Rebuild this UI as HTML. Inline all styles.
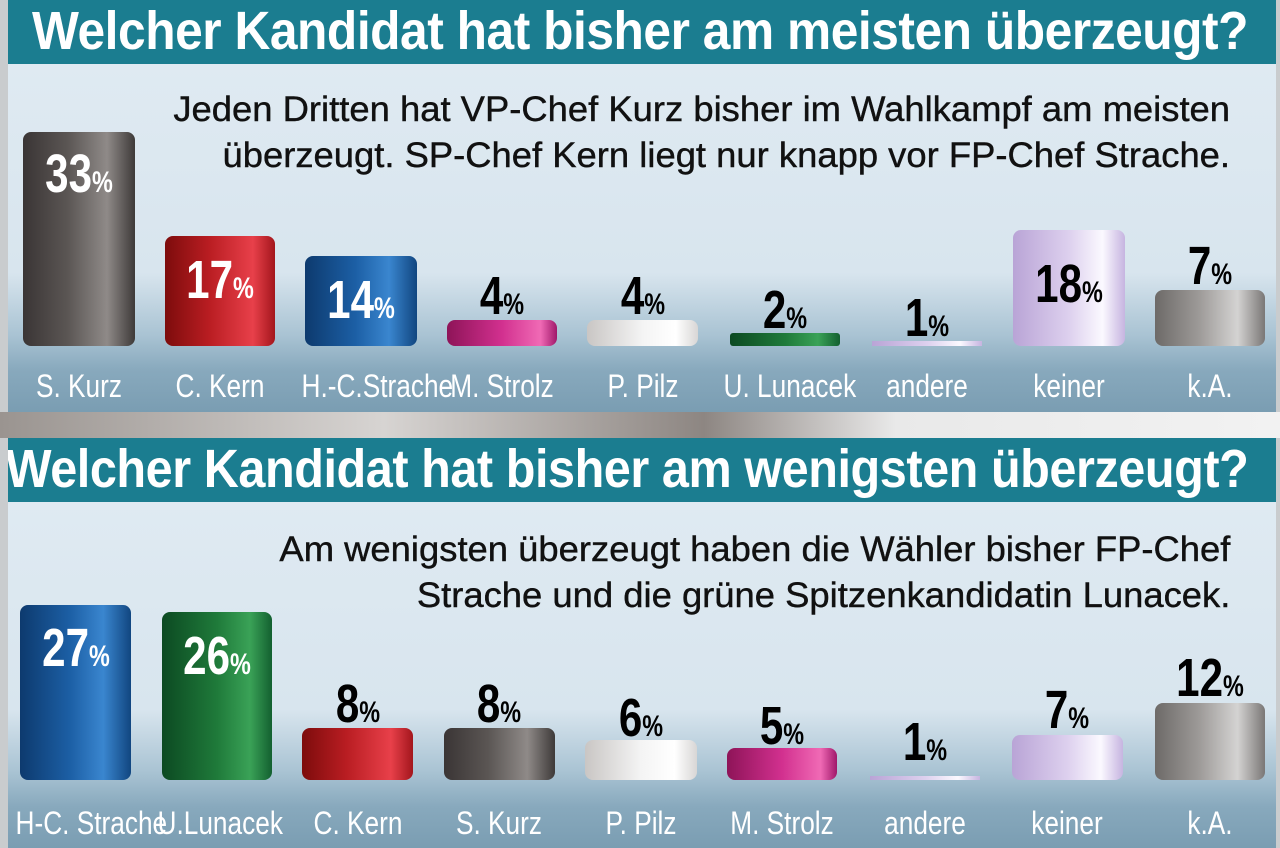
<!DOCTYPE html>
<html><head><meta charset="utf-8"><style>
*{margin:0;padding:0;box-sizing:border-box}
body{width:1280px;height:848px;position:relative;overflow:hidden;background:#c9ccce;font-family:"Liberation Sans",sans-serif}
.a{position:absolute}
.title{left:8px;width:1268px;height:64px;background:#1b7d90;color:#fff;font-weight:bold;white-space:nowrap;overflow:hidden}
.title span{position:absolute;top:0;font-size:54px;line-height:62px;transform-origin:center;letter-spacing:-0.5px;white-space:nowrap}
.panel{left:8px;width:1268px;background:linear-gradient(#dfeaf2 0%,#d8e5ee 60%,#a9c3d3 78%,#88a9bd 88%,#7a9db2 100%)}
.sub{color:#111;font-size:35px;line-height:46px;white-space:nowrap;text-align:right;transform:scaleX(1.04);transform-origin:right top;-webkit-text-stroke:0.4px #111}
.bar{border-radius:8px}
.lab{color:#fff;font-size:32px;text-align:center;width:150px;white-space:nowrap;transform:scaleX(0.82)}
.v{font-weight:bold;font-size:54px;text-align:center;width:130px;white-space:nowrap;transform:scaleX(0.78);line-height:60px}
.v small{font-size:30px}
.w{color:#fff}.k{color:#000}
.gray{background:linear-gradient(90deg,#3a3535,#5b5654 40%,#8f8a88 75%,#3e3a39)}
.red{background:linear-gradient(90deg,#7d0c0c,#b91d22 40%,#e8404a 80%,#a3161c)}
.blue{background:linear-gradient(90deg,#0d3a6e,#1c5fa5 45%,#3a86cf 75%,#114680)}
.pink{background:linear-gradient(90deg,#8e1458,#d2308f 50%,#f06ab5 85%,#a0186a)}
.white{background:linear-gradient(90deg,#c9c6c4,#f4f4f4 50%,#ffffff 80%,#d8d6d5)}
.green{background:linear-gradient(90deg,#0c4a22,#1f7a3a 50%,#3aa257 80%,#136030)}
.lav{background:linear-gradient(90deg,#b9a4d6,#ddd0ee 50%,#fbf9ff 80%,#c6b4e0)}
.ka{background:linear-gradient(90deg,#6d6a68,#9d9a98 40%,#d4d3d2 75%,#7a7776)}
</style></head><body>
<!-- TOP -->
<div class="a title" style="top:0"><span style="left:632px;transform:translateX(-50%) scaleX(0.92)">Welcher Kandidat hat bisher am meisten überzeugt?</span></div>
<div class="a panel" style="top:64px;height:348px"></div>
<div class="a" style="left:0;top:412px;width:1280px;height:26px;background:linear-gradient(90deg,#9a9490,#d7d4d2 30%,#8d8682 55%,#e9e9e9 70%,#f2f2f2)"></div>
<div class="a sub" style="right:50px;top:87px">Jeden Dritten hat VP-Chef Kurz bisher im Wahlkampf am meisten<br>überzeugt. SP-Chef Kern liegt nur knapp vor FP-Chef Strache.</div>

<div class="a bar gray" style="left:23px;top:132px;width:112px;height:214px"></div>
<div class="a bar red" style="left:165px;top:236px;width:110px;height:110px"></div>
<div class="a bar blue" style="left:305px;top:256px;width:112px;height:90px"></div>
<div class="a bar pink" style="left:447px;top:320px;width:110px;height:26px"></div>
<div class="a bar white" style="left:587px;top:320px;width:111px;height:26px"></div>
<div class="a bar green" style="left:730px;top:333px;width:110px;height:13px;border-radius:3px"></div>
<div class="a lav" style="left:872px;top:341px;width:110px;height:5px"></div>
<div class="a bar lav" style="left:1013px;top:230px;width:112px;height:116px"></div>
<div class="a bar ka" style="left:1155px;top:290px;width:110px;height:56px"></div>

<div class="a v w" style="left:14px;top:144px">33<small>%</small></div>
<div class="a v w" style="left:155px;top:250px">17<small>%</small></div>
<div class="a v w" style="left:296px;top:270px">14<small>%</small></div>
<div class="a v k" style="left:437px;top:266px">4<small>%</small></div>
<div class="a v k" style="left:578px;top:266px">4<small>%</small></div>
<div class="a v k" style="left:720px;top:280px">2<small>%</small></div>
<div class="a v k" style="left:862px;top:288px">1<small>%</small></div>
<div class="a v k" style="left:1004px;top:254px">18<small>%</small></div>
<div class="a v k" style="left:1145px;top:236px">7<small>%</small></div>

<div class="a lab" style="left:4px;top:368px">S. Kurz</div>
<div class="a lab" style="left:145px;top:368px">C. Kern</div>
<div class="a lab" style="left:288px;top:368px">H.-C.Strache</div>
<div class="a lab" style="left:427px;top:368px">M. Strolz</div>
<div class="a lab" style="left:568px;top:368px">P. Pilz</div>
<div class="a lab" style="left:710px;top:368px">U. Lunacek</div>
<div class="a lab" style="left:852px;top:368px">andere</div>
<div class="a lab" style="left:994px;top:368px">keiner</div>
<div class="a lab" style="left:1135px;top:368px">k.A.</div>

<!-- BOTTOM -->
<div class="a title" style="top:438px"><span style="left:619px;transform:translateX(-50%) scaleX(0.90)">Welcher Kandidat hat bisher am wenigsten überzeugt?</span></div>
<div class="a panel" style="top:502px;height:346px"></div>
<div class="a sub" style="right:50px;top:527px">Am wenigsten überzeugt haben die Wähler bisher FP-Chef<br>Strache und die grüne Spitzenkandidatin Lunacek.</div>

<div class="a bar blue" style="left:20px;top:605px;width:111px;height:175px"></div>
<div class="a bar green" style="left:162px;top:612px;width:110px;height:168px"></div>
<div class="a bar red" style="left:302px;top:728px;width:111px;height:52px"></div>
<div class="a bar gray" style="left:444px;top:728px;width:111px;height:52px"></div>
<div class="a bar white" style="left:585px;top:740px;width:112px;height:40px"></div>
<div class="a bar pink" style="left:727px;top:748px;width:110px;height:32px"></div>
<div class="a lav" style="left:870px;top:776px;width:110px;height:4px"></div>
<div class="a bar lav" style="left:1012px;top:735px;width:111px;height:45px"></div>
<div class="a bar ka" style="left:1155px;top:703px;width:110px;height:77px"></div>

<div class="a v w" style="left:11px;top:618px">27<small>%</small></div>
<div class="a v w" style="left:152px;top:626px">26<small>%</small></div>
<div class="a v k" style="left:293px;top:674px">8<small>%</small></div>
<div class="a v k" style="left:434px;top:674px">8<small>%</small></div>
<div class="a v k" style="left:576px;top:688px">6<small>%</small></div>
<div class="a v k" style="left:717px;top:696px">5<small>%</small></div>
<div class="a v k" style="left:860px;top:712px">1<small>%</small></div>
<div class="a v k" style="left:1002px;top:680px">7<small>%</small></div>
<div class="a v k" style="left:1145px;top:648px">12<small>%</small></div>

<div class="a lab" style="left:2px;top:805px">H-C. Strache</div>
<div class="a lab" style="left:144px;top:805px">U.Lunacek</div>
<div class="a lab" style="left:283px;top:805px">C. Kern</div>
<div class="a lab" style="left:424px;top:805px">S. Kurz</div>
<div class="a lab" style="left:566px;top:805px">P. Pilz</div>
<div class="a lab" style="left:707px;top:805px">M. Strolz</div>
<div class="a lab" style="left:850px;top:805px">andere</div>
<div class="a lab" style="left:992px;top:805px">keiner</div>
<div class="a lab" style="left:1135px;top:805px">k.A.</div>
</body></html>
